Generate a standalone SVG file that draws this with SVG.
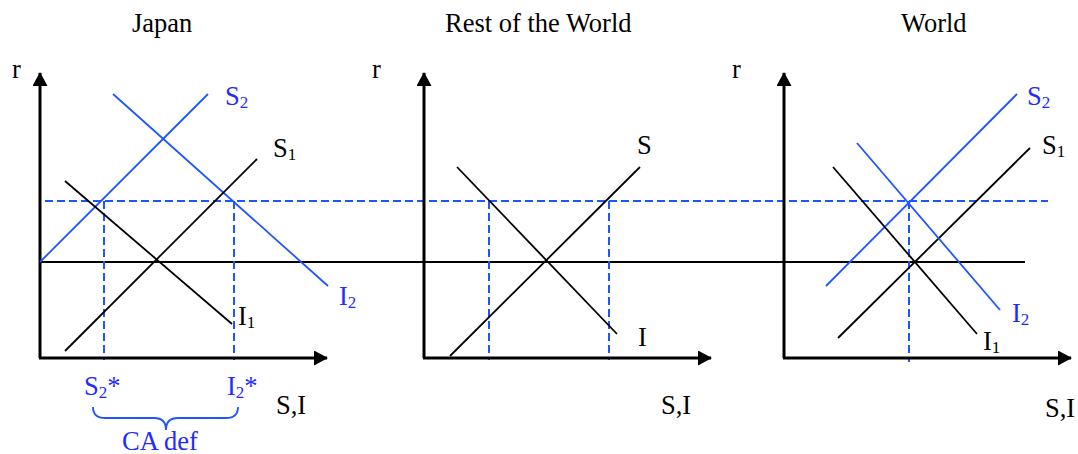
<svg xmlns="http://www.w3.org/2000/svg" width="1078" height="454" viewBox="0 0 1078 454">
<style>
text{font-family:"Liberation Serif","Times New Roman",serif;font-size:26.5px;fill:#000}
.b{fill:#1f2cff}
.sub{font-size:17px}
.axis{stroke:#000;stroke-width:3;fill:none}
.k{stroke:#000;stroke-width:1.8;fill:none}
.bl{stroke:#1f55ff;stroke-width:1.8;fill:none}
.d{stroke:#1f55ff;stroke-width:2;stroke-dasharray:8 4;fill:none}
</style>
<defs>
<marker id="ah" viewBox="0 0 14 15" refX="13" refY="7.5" markerWidth="14" markerHeight="15" markerUnits="userSpaceOnUse" orient="auto">
<path d="M0,0 L14,7.5 L0,15 Z" fill="#000"/>
</marker>
</defs>
<rect width="1078" height="454" fill="#fff"/>

<g id="titles">
<text x="132" y="32">Japan</text>
<text x="445" y="32">Rest of the World</text>
<text x="901" y="32">World</text>
</g>

<g id="connectors">
<line class="k" x1="40" y1="262" x2="1025" y2="262"/>
<line class="d" x1="45" y1="201" x2="1048" y2="201"/>
<line class="d" x1="104" y1="201" x2="104" y2="360"/>
<line class="d" x1="234" y1="201" x2="234" y2="360"/>
<line class="d" x1="489" y1="201" x2="489" y2="360"/>
<line class="d" x1="609" y1="201" x2="609" y2="360"/>
<line class="d" x1="909" y1="201" x2="909" y2="362"/>
</g>

<g id="japan">
<line class="axis" x1="40" y1="358" x2="40" y2="73" marker-end="url(#ah)"/>
<line class="axis" x1="39" y1="358" x2="327" y2="358" marker-end="url(#ah)"/>
<line class="bl" x1="40" y1="262" x2="208" y2="94"/>
<line class="bl" x1="113" y1="94" x2="328" y2="286"/>
<line class="k" x1="65" y1="351" x2="257" y2="159"/>
<line class="k" x1="65" y1="181" x2="232" y2="324"/>
<text x="12" y="78">r</text>
<text class="b" x="225" y="105">S<tspan class="sub" dy="3">2</tspan></text>
<text x="273" y="157">S<tspan class="sub" dy="3">1</tspan></text>
<text class="b" x="339" y="305">I<tspan class="sub" dy="3">2</tspan></text>
<text x="238" y="325">I<tspan class="sub" dy="3">1</tspan></text>
<text x="276" y="414">S,I</text>
<text class="b" x="84" y="395">S<tspan class="sub" dy="3">2</tspan><tspan dy="-3">*</tspan></text>
<text class="b" x="227" y="395">I<tspan class="sub" dy="3">2</tspan><tspan dy="-3">*</tspan></text>
<path class="bl" stroke-width="2" d="M93,407 Q93,418 105,418 L154,418 Q166,418 166,430 Q166,418 178,418 L226,418 Q238,418 238,407"/>
<text class="b" x="122" y="450">CA def</text>
</g>

<g id="rest">
<line class="axis" x1="424" y1="358" x2="424" y2="73" marker-end="url(#ah)"/>
<line class="axis" x1="423" y1="358" x2="711" y2="358" marker-end="url(#ah)"/>
<line class="k" x1="450" y1="356" x2="640" y2="167"/>
<line class="k" x1="457" y1="167" x2="617" y2="334"/>
<text x="372" y="78">r</text>
<text x="637" y="154">S</text>
<text x="638" y="346">I</text>
<text x="661" y="414">S,I</text>
</g>

<g id="world">
<line class="axis" x1="784" y1="358" x2="784" y2="73" marker-end="url(#ah)"/>
<line class="axis" x1="783" y1="358" x2="1071" y2="358" marker-end="url(#ah)"/>
<line class="bl" x1="826" y1="286" x2="1017" y2="94"/>
<line class="k" x1="838" y1="338" x2="1030" y2="148"/>
<line class="k" x1="833" y1="167" x2="977" y2="334"/>
<line class="bl" x1="857" y1="143" x2="1000" y2="310"/>
<text x="732" y="78">r</text>
<text class="b" x="1027" y="105">S<tspan class="sub" dy="3">2</tspan></text>
<text x="1042" y="154">S<tspan class="sub" dy="3">1</tspan></text>
<text class="b" x="1012" y="322">I<tspan class="sub" dy="3">2</tspan></text>
<text x="983" y="350">I<tspan class="sub" dy="3">1</tspan></text>
<text x="1045" y="417">S,I</text>
</g>
</svg>
